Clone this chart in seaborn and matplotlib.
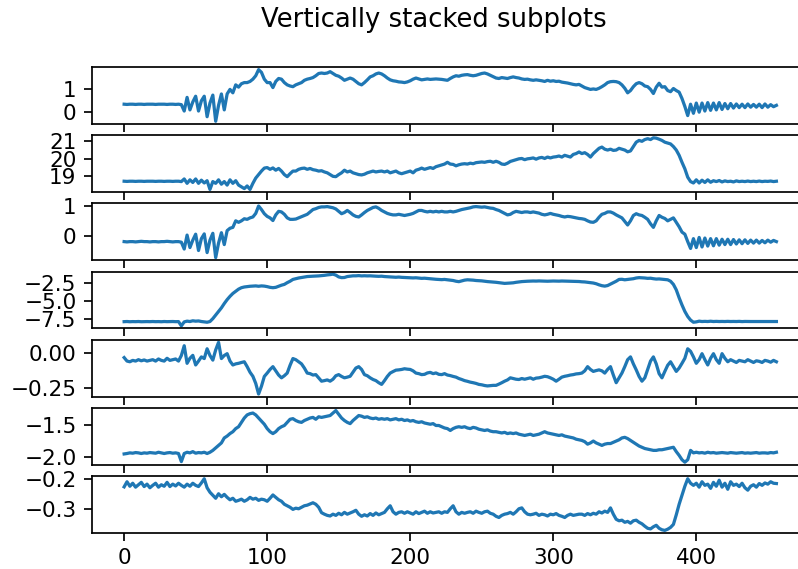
import numpy as np
import matplotlib
matplotlib.use("Agg")
import matplotlib.pyplot as plt
import seaborn as sns

# --- DATA (one value every 2 samples) ---
sample = np.arange(0, 458, 2)

series_1 = [
    0.35, 0.34, 0.35, 0.35, 0.34, 0.35, 0.35, 0.34, 0.35, 0.35,
    0.35, 0.34, 0.35, 0.35, 0.35, 0.34, 0.35, 0.35, 0.34, 0.35,
    0.33, 0.05, 0.65, 0.1, 0.45, 0.7, 0.05, 0.5, 0.7, -0.2,
    0.4, 0.75, -0.4, 0.3, 0.8, 0.1, 0.8, 1.0, 0.85, 1.2,
    1.1, 1.25, 1.3, 1.3, 1.35, 1.45, 1.6, 1.87, 1.75, 1.45,
    1.3, 1.3, 1.08, 1.35, 1.48, 1.45, 1.3, 1.2, 1.15, 1.12,
    1.2, 1.25, 1.3, 1.4, 1.45, 1.48, 1.52, 1.6, 1.7, 1.72,
    1.7, 1.72, 1.78, 1.7, 1.62, 1.58, 1.5, 1.4, 1.45, 1.5,
    1.45, 1.35, 1.25, 1.2, 1.3, 1.42, 1.55, 1.6, 1.68, 1.72,
    1.68, 1.6, 1.5, 1.42, 1.38, 1.36, 1.33, 1.32, 1.3, 1.33,
    1.38, 1.45, 1.5, 1.46, 1.42, 1.44, 1.46, 1.44, 1.45, 1.46,
    1.45, 1.44, 1.42, 1.4, 1.48, 1.55, 1.6, 1.58, 1.62, 1.64,
    1.65, 1.62, 1.6, 1.62, 1.66, 1.7, 1.72, 1.68, 1.62, 1.56,
    1.5, 1.48, 1.52, 1.5, 1.48, 1.52, 1.55, 1.52, 1.5, 1.46,
    1.44, 1.45, 1.42, 1.4, 1.42, 1.4, 1.38, 1.35, 1.4, 1.36,
    1.38, 1.35, 1.36, 1.32, 1.3, 1.28, 1.25, 1.22, 1.2, 1.22,
    1.15, 1.08, 1.04, 1.0, 1.02, 1.0, 1.05, 1.12, 1.2, 1.3,
    1.34, 1.35, 1.34, 1.3, 1.2, 1.05, 0.85, 0.95, 1.12, 1.25,
    1.3, 1.25, 1.15, 1.12, 1.0, 0.82, 1.1, 1.27, 1.1, 1.12,
    0.95, 0.9, 1.04, 0.95, 0.88, 0.6, 0.25, -0.15, 0.35, -0.05,
    0.4, 0.0, 0.4, 0.05, 0.42, 0.08, 0.4, 0.1, 0.42, 0.12,
    0.38, 0.15, 0.38, 0.18, 0.36, 0.2, 0.35, 0.2, 0.36, 0.22,
    0.34, 0.22, 0.35, 0.2, 0.36, 0.22, 0.33, 0.24, 0.3,
]

series_2 = [
    18.72, 18.71, 18.72, 18.72, 18.71, 18.72, 18.72, 18.71, 18.72, 18.72,
    18.72, 18.71, 18.72, 18.72, 18.71, 18.72, 18.72, 18.71, 18.72, 18.72,
    18.7, 18.85, 18.6, 18.8, 18.65, 18.85, 18.6, 18.78, 18.62, 18.75,
    18.25, 18.7, 18.6, 18.8, 18.55, 18.7, 18.5, 18.8, 18.6, 18.75,
    18.5, 18.4, 18.3, 18.45, 18.25, 18.6, 18.9, 19.1, 19.3, 19.47,
    19.5, 19.4, 19.48, 19.35, 19.45, 19.3, 19.1, 18.98, 19.15, 19.3,
    19.3, 19.4, 19.45, 19.47, 19.4, 19.45, 19.38, 19.35, 19.3, 19.32,
    19.25, 19.2, 19.1, 19.0, 18.98, 19.1, 19.2, 19.35, 19.25, 19.3,
    19.2, 19.15, 19.1, 19.08, 19.12, 19.2, 19.25, 19.3, 19.25, 19.28,
    19.3, 19.25, 19.3, 19.2, 19.25, 19.3, 19.2, 19.15, 19.2, 19.25,
    19.3, 19.2, 19.35, 19.4, 19.47, 19.4, 19.45, 19.5, 19.45, 19.55,
    19.6, 19.65, 19.7, 19.8, 19.7, 19.68, 19.6, 19.66, 19.7, 19.72,
    19.7, 19.75, 19.72, 19.78, 19.8, 19.82, 19.8, 19.84, 19.86, 19.8,
    19.86, 19.8, 19.7, 19.68, 19.75, 19.85, 19.9, 19.95, 20.0, 20.02,
    19.95, 20.0, 20.02, 20.05, 19.98, 20.05, 20.08, 20.02, 20.1, 20.05,
    20.1, 20.12, 20.16, 20.1, 20.2, 20.15, 20.1, 20.25, 20.3, 20.39,
    20.3, 20.35, 20.25, 20.1, 20.3, 20.45, 20.6, 20.67, 20.55, 20.5,
    20.55, 20.48, 20.5, 20.6, 20.55, 20.5, 20.4, 20.45, 20.7, 20.95,
    21.05, 21.0, 21.1, 21.15, 21.1, 21.2, 21.18, 21.12, 21.05, 20.95,
    20.9, 20.85, 20.7, 20.5, 20.2, 19.8, 19.43, 18.95, 18.7, 18.62,
    18.8, 18.62, 18.78, 18.65, 18.8, 18.66, 18.75, 18.7, 18.76, 18.68,
    18.74, 18.7, 18.72, 18.68, 18.74, 18.7, 18.72, 18.7, 18.73, 18.7,
    18.72, 18.7, 18.73, 18.7, 18.72, 18.71, 18.73, 18.7, 18.72,
]

series_3 = [
    -0.2, -0.21, -0.2, -0.2, -0.21, -0.2, -0.19, -0.2, -0.2, -0.21,
    -0.2, -0.2, -0.21, -0.2, -0.2, -0.19, -0.2, -0.21, -0.2, -0.2,
    -0.22, -0.45, 0.02, -0.4, -0.15, 0.05, -0.5, -0.1, 0.06, -0.57,
    -0.15, 0.08, -0.74, -0.25, 0.1, -0.3, 0.17, 0.25, 0.28, 0.5,
    0.45, 0.5, 0.57, 0.55, 0.6, 0.63, 0.75, 1.0, 0.88, 0.74,
    0.65, 0.6, 0.51, 0.7, 0.82, 0.8, 0.72, 0.6, 0.55, 0.55,
    0.56, 0.6, 0.64, 0.68, 0.72, 0.8, 0.88, 0.91, 0.95, 0.97,
    0.97, 0.98, 0.96, 0.94, 0.9, 0.82, 0.74, 0.78, 0.85, 0.78,
    0.7, 0.65, 0.63, 0.7, 0.78, 0.85, 0.9, 0.95, 0.97, 0.92,
    0.85, 0.8, 0.75, 0.72, 0.7, 0.7, 0.72, 0.7, 0.68, 0.7,
    0.72, 0.75, 0.8, 0.85, 0.85, 0.82, 0.8, 0.82, 0.8, 0.82,
    0.8, 0.82, 0.8, 0.8, 0.82, 0.8, 0.82, 0.85, 0.88, 0.9,
    0.92, 0.94, 0.97, 0.98, 0.97, 0.96, 0.97, 0.95, 0.93, 0.92,
    0.88, 0.85, 0.8, 0.75, 0.7, 0.72, 0.78, 0.82, 0.8, 0.78,
    0.8, 0.8, 0.78, 0.8, 0.78, 0.76, 0.72, 0.7, 0.72, 0.75,
    0.72, 0.7, 0.68, 0.65, 0.63, 0.65, 0.64, 0.62, 0.6, 0.58,
    0.57, 0.55, 0.5, 0.46, 0.45, 0.5, 0.62, 0.72, 0.75, 0.8,
    0.8, 0.76, 0.7, 0.65, 0.6, 0.48, 0.36, 0.5, 0.68, 0.74,
    0.7, 0.68, 0.62, 0.55, 0.4, 0.28, 0.5, 0.68, 0.62, 0.58,
    0.5, 0.55, 0.6, 0.45, 0.3, 0.12, 0.05, -0.2, -0.43, -0.1,
    -0.4, -0.06, -0.38, -0.08, -0.35, -0.1, -0.34, -0.1, -0.32, -0.12,
    -0.3, -0.12, -0.3, -0.13, -0.28, -0.14, -0.27, -0.14, -0.26, -0.15,
    -0.25, -0.15, -0.25, -0.16, -0.24, -0.15, -0.22, -0.16, -0.2,
]

series_4 = [
    -7.82, -7.8, -7.83, -7.81, -7.82, -7.8, -7.83, -7.82, -7.81, -7.82,
    -7.8, -7.82, -7.81, -7.83, -7.8, -7.82, -7.81, -7.8, -7.82, -7.81,
    -8.4, -7.85, -7.75, -7.8, -7.7, -7.75, -7.72, -7.8, -7.85, -7.9,
    -7.8, -7.4, -6.9, -6.4, -5.9, -5.3, -4.76, -4.3, -3.9, -3.6,
    -3.3, -3.1, -3.0, -2.95, -2.9, -2.88, -2.85, -2.9, -2.85, -2.88,
    -2.95, -3.05, -3.1, -3.05, -2.9, -2.75, -2.64, -2.4, -2.2, -1.95,
    -1.85, -1.75, -1.68, -1.6, -1.55, -1.52, -1.5, -1.48, -1.46, -1.42,
    -1.38, -1.32, -1.28, -1.22, -1.35, -1.6, -1.7, -1.68, -1.55, -1.5,
    -1.45, -1.45, -1.42, -1.46, -1.44, -1.46, -1.45, -1.48, -1.5, -1.52,
    -1.5, -1.55, -1.58, -1.6, -1.62, -1.65, -1.62, -1.66, -1.68, -1.7,
    -1.72, -1.74, -1.72, -1.76, -1.8, -1.78, -1.82, -1.85, -1.9, -1.93,
    -1.95, -1.98, -1.95, -2.0, -2.05, -2.1, -2.2, -2.26, -2.15, -2.05,
    -2.0, -2.02, -2.05, -2.1, -2.12, -2.15, -2.2, -2.25, -2.28, -2.3,
    -2.35, -2.4, -2.45, -2.5, -2.48, -2.45, -2.42, -2.35, -2.3, -2.25,
    -2.22, -2.2, -2.18, -2.17, -2.18, -2.16, -2.17, -2.18, -2.2, -2.18,
    -2.17, -2.18, -2.19, -2.17, -2.18, -2.2, -2.19, -2.2, -2.22, -2.24,
    -2.28, -2.3, -2.35, -2.4, -2.45, -2.55, -2.7, -2.82, -2.88, -2.8,
    -2.6, -2.4, -2.2, -1.95, -1.93, -2.0, -1.95, -1.9, -1.85, -1.75,
    -1.7, -1.72, -1.75, -1.8, -1.78, -1.85, -1.9, -1.88, -1.92, -1.95,
    -2.0, -2.2, -2.64, -3.4, -4.5, -5.5, -6.4, -7.1, -7.6, -7.9,
    -7.85, -7.75, -7.8, -7.78, -7.8, -7.76, -7.8, -7.78, -7.8, -7.79,
    -7.8, -7.78, -7.8, -7.79, -7.8, -7.78, -7.81, -7.79, -7.8, -7.8,
    -7.8, -7.79, -7.8, -7.8, -7.79, -7.8, -7.81, -7.8, -7.8,
]

series_5 = [
    -0.035, -0.06, -0.065, -0.055, -0.06, -0.05, -0.058, -0.052, -0.06, -0.055,
    -0.05, -0.06, -0.045, -0.055, -0.06, -0.04, -0.055, -0.05, -0.045, -0.06,
    -0.02, 0.05, -0.076, -0.04, -0.019, -0.088, -0.06, -0.03, -0.042, 0.028,
    -0.02, -0.053, 0.02, 0.074, -0.042, -0.02, -0.007, -0.06, -0.088, -0.08,
    -0.076, -0.07, -0.065, -0.1, -0.14, -0.169, -0.22, -0.296, -0.24, -0.17,
    -0.146, -0.12, -0.1, -0.13, -0.16, -0.18, -0.165, -0.146, -0.09, -0.042,
    -0.05, -0.065, -0.08, -0.11, -0.146, -0.15, -0.16, -0.157, -0.18, -0.204,
    -0.2, -0.195, -0.204, -0.19, -0.165, -0.157, -0.17, -0.18, -0.175, -0.169,
    -0.14, -0.11, -0.1, -0.12, -0.157, -0.165, -0.18, -0.192, -0.2, -0.215,
    -0.227, -0.2, -0.17, -0.146, -0.135, -0.125, -0.123, -0.12, -0.115, -0.118,
    -0.12, -0.13, -0.146, -0.15, -0.157, -0.155, -0.145, -0.141, -0.15, -0.145,
    -0.155, -0.157, -0.15, -0.16, -0.164, -0.17, -0.175, -0.185, -0.192, -0.2,
    -0.205, -0.211, -0.215, -0.22, -0.227, -0.23, -0.235, -0.238, -0.236, -0.234,
    -0.234, -0.225, -0.215, -0.204, -0.195, -0.18, -0.185, -0.19, -0.192, -0.185,
    -0.19, -0.185, -0.18, -0.19, -0.182, -0.18, -0.175, -0.169, -0.172, -0.18,
    -0.19, -0.204, -0.19, -0.175, -0.169, -0.165, -0.16, -0.157, -0.152, -0.15,
    -0.146, -0.13, -0.1, -0.12, -0.134, -0.128, -0.123, -0.13, -0.146, -0.12,
    -0.1, -0.16, -0.215, -0.18, -0.146, -0.1, -0.05, -0.03, -0.08, -0.123,
    -0.17, -0.204, -0.18, -0.12, -0.06, -0.03, -0.08, -0.15, -0.18, -0.134,
    -0.09, -0.065, -0.1, -0.134, -0.11, -0.076, -0.04, 0.028, 0.01, -0.03,
    -0.076, -0.05, -0.007, -0.05, -0.088, -0.04, -0.007, -0.05, -0.076, -0.007,
    -0.04, -0.065, -0.05, -0.06, -0.07, -0.055, -0.06, -0.065, -0.05, -0.06,
    -0.07, -0.058, -0.062, -0.07, -0.055, -0.06, -0.068, -0.055, -0.065,
]

series_6 = [
    -1.957, -1.95, -1.94, -1.945, -1.935, -1.94, -1.95, -1.94, -1.945, -1.935,
    -1.94, -1.945, -1.93, -1.94, -1.95, -1.94, -1.935, -1.945, -1.94, -1.95,
    -2.08, -1.95, -1.93, -1.94, -1.92, -1.945, -1.935, -1.94, -1.93, -1.95,
    -1.93, -1.9, -1.86, -1.82, -1.78, -1.7, -1.67, -1.63, -1.6, -1.55,
    -1.52, -1.45, -1.38, -1.33, -1.31, -1.3, -1.33, -1.38, -1.43, -1.48,
    -1.55, -1.6, -1.63, -1.6, -1.55, -1.52, -1.5, -1.45, -1.4, -1.39,
    -1.42, -1.44, -1.45, -1.42, -1.4, -1.38, -1.37, -1.4, -1.36, -1.37,
    -1.36, -1.35, -1.34, -1.3, -1.26, -1.32, -1.38, -1.42, -1.45, -1.47,
    -1.42, -1.38, -1.34, -1.35, -1.37, -1.36, -1.38, -1.39, -1.38, -1.4,
    -1.39, -1.4, -1.39, -1.41, -1.4, -1.39, -1.41, -1.4, -1.42, -1.41,
    -1.43, -1.42, -1.44, -1.45, -1.44, -1.46, -1.47, -1.48, -1.47, -1.5,
    -1.5, -1.52, -1.54, -1.55, -1.58, -1.55, -1.53, -1.52, -1.53, -1.52,
    -1.54, -1.55, -1.53, -1.54, -1.56, -1.57, -1.58, -1.57, -1.59, -1.6,
    -1.6, -1.61, -1.62, -1.61, -1.63, -1.62, -1.63, -1.62, -1.64, -1.65,
    -1.66, -1.65, -1.64, -1.66, -1.65, -1.64, -1.62, -1.6, -1.62, -1.63,
    -1.64, -1.65, -1.66, -1.65, -1.67, -1.68, -1.69, -1.7, -1.72, -1.73,
    -1.74, -1.76, -1.8, -1.78, -1.75, -1.78, -1.8, -1.82, -1.8, -1.79,
    -1.79, -1.77, -1.75, -1.73, -1.7, -1.69, -1.71, -1.74, -1.77, -1.8,
    -1.83, -1.85, -1.87, -1.88, -1.89, -1.9, -1.9, -1.89, -1.89, -1.88,
    -1.87, -1.86, -1.85, -1.92, -1.98, -2.05, -2.09, -2.05, -1.9, -1.94,
    -1.93, -1.94, -1.935, -1.945, -1.93, -1.94, -1.935, -1.945, -1.94, -1.935,
    -1.94, -1.945, -1.935, -1.94, -1.945, -1.94, -1.935, -1.945, -1.94, -1.945,
    -1.94, -1.935, -1.945, -1.94, -1.94, -1.945, -1.935, -1.94, -1.93,
]

series_7 = [
    -0.227, -0.21, -0.225, -0.215, -0.228, -0.22, -0.212, -0.226, -0.218, -0.23,
    -0.222, -0.215, -0.228, -0.22, -0.225, -0.212, -0.226, -0.218, -0.224, -0.215,
    -0.222, -0.228, -0.218, -0.225, -0.215, -0.222, -0.226, -0.214, -0.2, -0.23,
    -0.245, -0.255, -0.265, -0.25, -0.26, -0.252, -0.262, -0.27, -0.265, -0.275,
    -0.272, -0.268, -0.275, -0.27, -0.262, -0.268, -0.265, -0.272, -0.268, -0.27,
    -0.275, -0.265, -0.254, -0.262, -0.27, -0.275, -0.285, -0.29, -0.295, -0.302,
    -0.298, -0.3, -0.295, -0.29, -0.288, -0.284, -0.28, -0.285, -0.295, -0.313,
    -0.318, -0.322, -0.324, -0.318, -0.322, -0.315, -0.32, -0.312, -0.318, -0.314,
    -0.31, -0.305, -0.318, -0.325, -0.32, -0.324, -0.316, -0.322, -0.314, -0.32,
    -0.316, -0.312, -0.3, -0.29, -0.31, -0.318, -0.312, -0.31, -0.315, -0.31,
    -0.314, -0.318, -0.31, -0.316, -0.312, -0.308, -0.315, -0.31, -0.314, -0.312,
    -0.31, -0.315, -0.31, -0.312, -0.3, -0.29, -0.31, -0.318, -0.312, -0.315,
    -0.312, -0.31, -0.315, -0.308, -0.312, -0.315, -0.31, -0.308, -0.315, -0.318,
    -0.325, -0.329, -0.322, -0.318, -0.316, -0.312, -0.318, -0.31, -0.3, -0.297,
    -0.31, -0.318, -0.32, -0.318, -0.315, -0.322, -0.318, -0.32, -0.324, -0.318,
    -0.32, -0.316, -0.322, -0.325, -0.329, -0.322, -0.318, -0.322, -0.32, -0.318,
    -0.318, -0.322, -0.316, -0.32, -0.315, -0.318, -0.31, -0.314, -0.308, -0.312,
    -0.297, -0.318, -0.335, -0.34, -0.338, -0.345, -0.342, -0.348, -0.34, -0.338,
    -0.345, -0.35, -0.358, -0.365, -0.367, -0.36, -0.355, -0.365, -0.37, -0.372,
    -0.368, -0.362, -0.352, -0.32, -0.285, -0.255, -0.225, -0.2, -0.215, -0.222,
    -0.215, -0.228, -0.21, -0.222, -0.218, -0.232, -0.212, -0.225, -0.205, -0.228,
    -0.215, -0.235, -0.21, -0.222, -0.218, -0.226, -0.215, -0.23, -0.238, -0.225,
    -0.22, -0.228, -0.216, -0.222, -0.214, -0.218, -0.21, -0.215, -0.216,
]

all_series = [series_1, series_2, series_3, series_4, series_5, series_6, series_7]
y_ticks = [[0, 1], [19, 20, 21], [0, 1], [-7.5, -5.0, -2.5],
           [-0.25, 0.0], [-2.0, -1.5], [-0.3, -0.2]]

# --- PLOT ---
DPI = 155
fig, axs = plt.subplots(7, sharex=True, figsize=(798 / DPI, 569 / DPI), dpi=DPI)
fig.subplots_adjust(left=0.1147, right=1.0138, top=0.8822, bottom=0.0633, hspace=0.2)
fig.suptitle("Vertically stacked subplots", x=0.544, y=0.965, va="center")

for ax, vals, ticks in zip(axs, all_series, y_ticks):
    sns.lineplot(x=sample[:len(vals)], y=vals, ax=ax)
    ax.set_yticks(ticks)

fig.savefig("out.png", dpi=DPI)
